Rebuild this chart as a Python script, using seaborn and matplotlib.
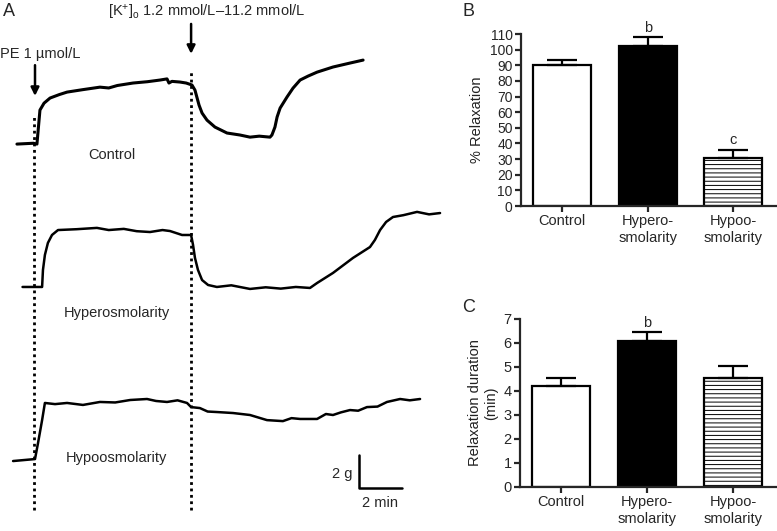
import matplotlib
matplotlib.use("Agg")
import matplotlib.pyplot as plt
import seaborn as sns
import pandas as pd

# Panel A traces: time (min after PE) and tension (g above own baseline)
ctrl_t = [-0.77, 0.0, 0.16, 0.30, 0.49, 0.77, 1.2, 1.56, 2.3, 3.09, 3.5, 3.9, 4.63, 5.3, 5.88, 6.21, 6.3,
          6.44, 6.81, 7.1, 7.37, 7.51, 7.70, 7.84, 8.07, 8.44, 9.00, 9.60, 10.07, 10.5, 11.0, 11.09, 11.23,
          11.33, 11.47, 11.79, 12.07, 12.40, 12.77, 13.19, 13.93, 14.72, 15.33]
ctrl_g = [0.0, 0.05, 0.0, 2.06, 2.48, 2.79, 3.0, 3.15, 3.30, 3.45, 3.40, 3.55, 3.70, 3.78, 3.88, 3.95, 3.70,
          3.80, 3.76, 3.70, 3.58, 3.27, 2.36, 1.88, 1.45, 1.03, 0.67, 0.55, 0.42, 0.48, 0.42, 0.55, 1.03,
          1.64, 2.18, 2.85, 3.39, 3.88, 4.12, 4.36, 4.67, 4.91, 5.09]

hyper_t = [-0.51, 0.40, 0.44, 0.53, 0.67, 0.86, 1.14, 2.0, 2.95, 3.5, 4.2, 4.8, 5.42, 6.0, 6.35, 6.91,
           7.33, 7.42, 7.51, 7.65, 7.84, 8.12, 8.53, 9.2, 10.07, 10.8, 11.5, 12.2, 12.86, 13.19, 13.93,
           14.86, 15.65, 15.88, 16.12, 16.40, 16.72, 17.2, 17.84, 18.4, 18.91]
hyper_g = [0.0, 0.0, 1.03, 1.94, 2.67, 3.15, 3.45, 3.50, 3.58, 3.45, 3.52, 3.38, 3.33, 3.45, 3.39, 3.15,
           3.15, 2.55, 1.76, 1.03, 0.42, 0.12, 0.0, 0.10, -0.12, -0.02, -0.10, 0.0, -0.06, 0.24, 0.85,
           1.76, 2.42, 2.85, 3.45, 3.94, 4.24, 4.35, 4.55, 4.40, 4.48]

hypo_t = [-0.95, 0.07, 0.21, 0.40, 0.53, 1.0, 1.56, 2.3, 3.09, 3.8, 4.5, 5.28, 5.7, 6.21, 6.7, 7.14, 7.33,
          7.74, 8.1, 8.53, 9.28, 10.07, 10.86, 11.60, 12.0, 12.40, 13.19, 13.6, 13.93, 14.3, 14.72, 15.1,
          15.51, 16.0, 16.44, 17.05, 17.5, 17.98]
hypo_g = [0.0, 0.12, 1.09, 2.48, 3.52, 3.45, 3.52, 3.40, 3.58, 3.55, 3.70, 3.76, 3.64, 3.58, 3.68, 3.52,
          3.27, 3.21, 3.00, 2.97, 2.91, 2.79, 2.48, 2.42, 2.60, 2.55, 2.55, 2.85, 2.79, 2.95, 3.09, 3.05,
          3.27, 3.30, 3.58, 3.76, 3.68, 3.76]

trace_names = ["Control", "Hyperosmolarity", "Hypoosmolarity"]
trace_offsets = [23.45, 14.79, 4.24]

# Panels B and C
groups = ["Control", "Hypero-\nsmolarity", "Hypoo-\nsmolarity"]
relax_mean = [90, 102.5, 30.5]
relax_sem = [3.5, 5.5, 5.5]
relax_sig = ["", "b", "c"]
dur_mean = [4.2, 6.1, 4.53]
dur_sem = [0.33, 0.35, 0.52]
dur_sig = ["", "b", ""]

sns.set_style("ticks")
plt.rcParams["font.family"] = ["Liberation Sans", "DejaVu Sans"]
plt.rcParams["mathtext.fontset"] = "custom"
plt.rcParams["mathtext.rm"] = "Liberation Sans"
plt.rcParams["mathtext.it"] = "Liberation Sans:italic"
plt.rcParams["hatch.linewidth"] = 0.7

fig = plt.figure(figsize=(7.77, 5.31), dpi=100)

# ---------- Panel A ----------
axA = fig.add_axes([0, 0, 455 / 777, 1])
axA.set_xlim(-33.5 / 21.5, (455 - 33.5) / 21.5)
axA.set_ylim(0, 531 / 16.5)
axA.axis("off")

frames = []
for name, t, g, off in zip(trace_names, [ctrl_t, hyper_t, hypo_t], [ctrl_g, hyper_g, hypo_g], trace_offsets):
    frames.append(pd.DataFrame({"time": t, "tension": [v + off for v in g], "group": name}))
traces = pd.concat(frames, ignore_index=True)
for name, lw in zip(trace_names, [2.2, 1.8, 1.8]):
    sns.lineplot(data=traces[traces.group == name], x="time", y="tension", sort=False,
                 estimator=None, color="black", lw=lw, ax=axA, legend=False)

axA.plot([0, 0], [1.27, 25.3], color="black", lw=2, ls=(0, (1, 1.3)))
axA.plot([7.33, 7.33], [1.27, 27.8], color="black", lw=2, ls=(0, (1, 1.3)))
axA.annotate("", xy=(0.07, 26.2), xytext=(0.07, 28.4),
             arrowprops=dict(arrowstyle="-|>", color="black", lw=1.8, mutation_scale=12))
axA.annotate("", xy=(7.33, 28.75), xytext=(7.33, 30.9),
             arrowprops=dict(arrowstyle="-|>", color="black", lw=1.8, mutation_scale=12))
axA.text(-1.56, 28.9, "PE 1 µmol/L", ha="left", va="center", fontsize=10.5)
axA.text(8.07, 31.4, r"[K$^{+}$]$_{\mathrm{o}}$ 1.2 mmol/L–11.2 mmol/L", ha="center", va="center", fontsize=10.5)
axA.text(3.65, 22.8, "Control", ha="center", va="center", fontsize=10.5)
axA.text(3.88, 13.2, "Hyperosmolarity", ha="center", va="center", fontsize=10.5)
axA.text(3.88, 4.42, "Hypoosmolarity", ha="center", va="center", fontsize=10.5)

# scale bar 2 g / 2 min
axA.plot([15.14, 15.14, 17.14], [4.6, 2.6, 2.6], color="black", lw=1.8)
axA.text(14.85, 3.45, "2 g", ha="right", va="center", fontsize=10.5)
axA.text(16.12, 1.7, "2 min", ha="center", va="center", fontsize=10.5)


def bar_panel(ax, means, sems, sig, ymax, yticks, ylabel, sig_pad):
    df = pd.DataFrame({"group": groups, "value": means})
    sns.barplot(data=df, x="group", y="value", hue="group", palette=["white", "black", "white"],
                edgecolor="black", linewidth=1.6, width=0.68, legend=False, ax=ax)
    ax.patches[2].set_hatch("----")
    ax.errorbar(range(3), means, yerr=[[0] * 3, sems], fmt="none", ecolor="black",
                elinewidth=1.6, capsize=10.5, capthick=1.6, zorder=1)
    for i, s in enumerate(sig):
        if s:
            ax.text(i, means[i] + sems[i] + sig_pad, s, ha="center", va="bottom", fontsize=10.5)
    ax.set_xlim(-0.48, 2.51)
    ax.set_ylim(0, ymax)
    ax.set_yticks(yticks)
    ax.set_xlabel("")
    ax.set_ylabel(ylabel, fontsize=10.5, color="#222222")
    ax.tick_params(width=1.6, length=4, labelsize=10.5, pad=2)
    for side in ["left", "bottom"]:
        ax.spines[side].set_linewidth(1.6)
    sns.despine(ax=ax)


axB = fig.add_axes([521 / 777, (531 - 206) / 531, 256 / 777, 172 / 531])
bar_panel(axB, relax_mean, relax_sem, relax_sig, 110, range(0, 111, 10), "% Relaxation", 1.5)
axB.tick_params(axis="y", labelsize=10)

axC = fig.add_axes([520 / 777, (531 - 487) / 531, 257 / 777, 168 / 531])
bar_panel(axC, dur_mean, dur_sem, dur_sig, 7, range(0, 8), "Relaxation duration\n(min)", 0.08)

fig.text(3 / 777, 1 - 3 / 531, "A", ha="left", va="top", fontsize=13)
fig.text(462 / 777, 1 - 3 / 531, "B", ha="left", va="top", fontsize=13)
fig.text(462 / 777, 1 - 299 / 531, "C", ha="left", va="top", fontsize=13)

fig.savefig("out.png", dpi=100)
